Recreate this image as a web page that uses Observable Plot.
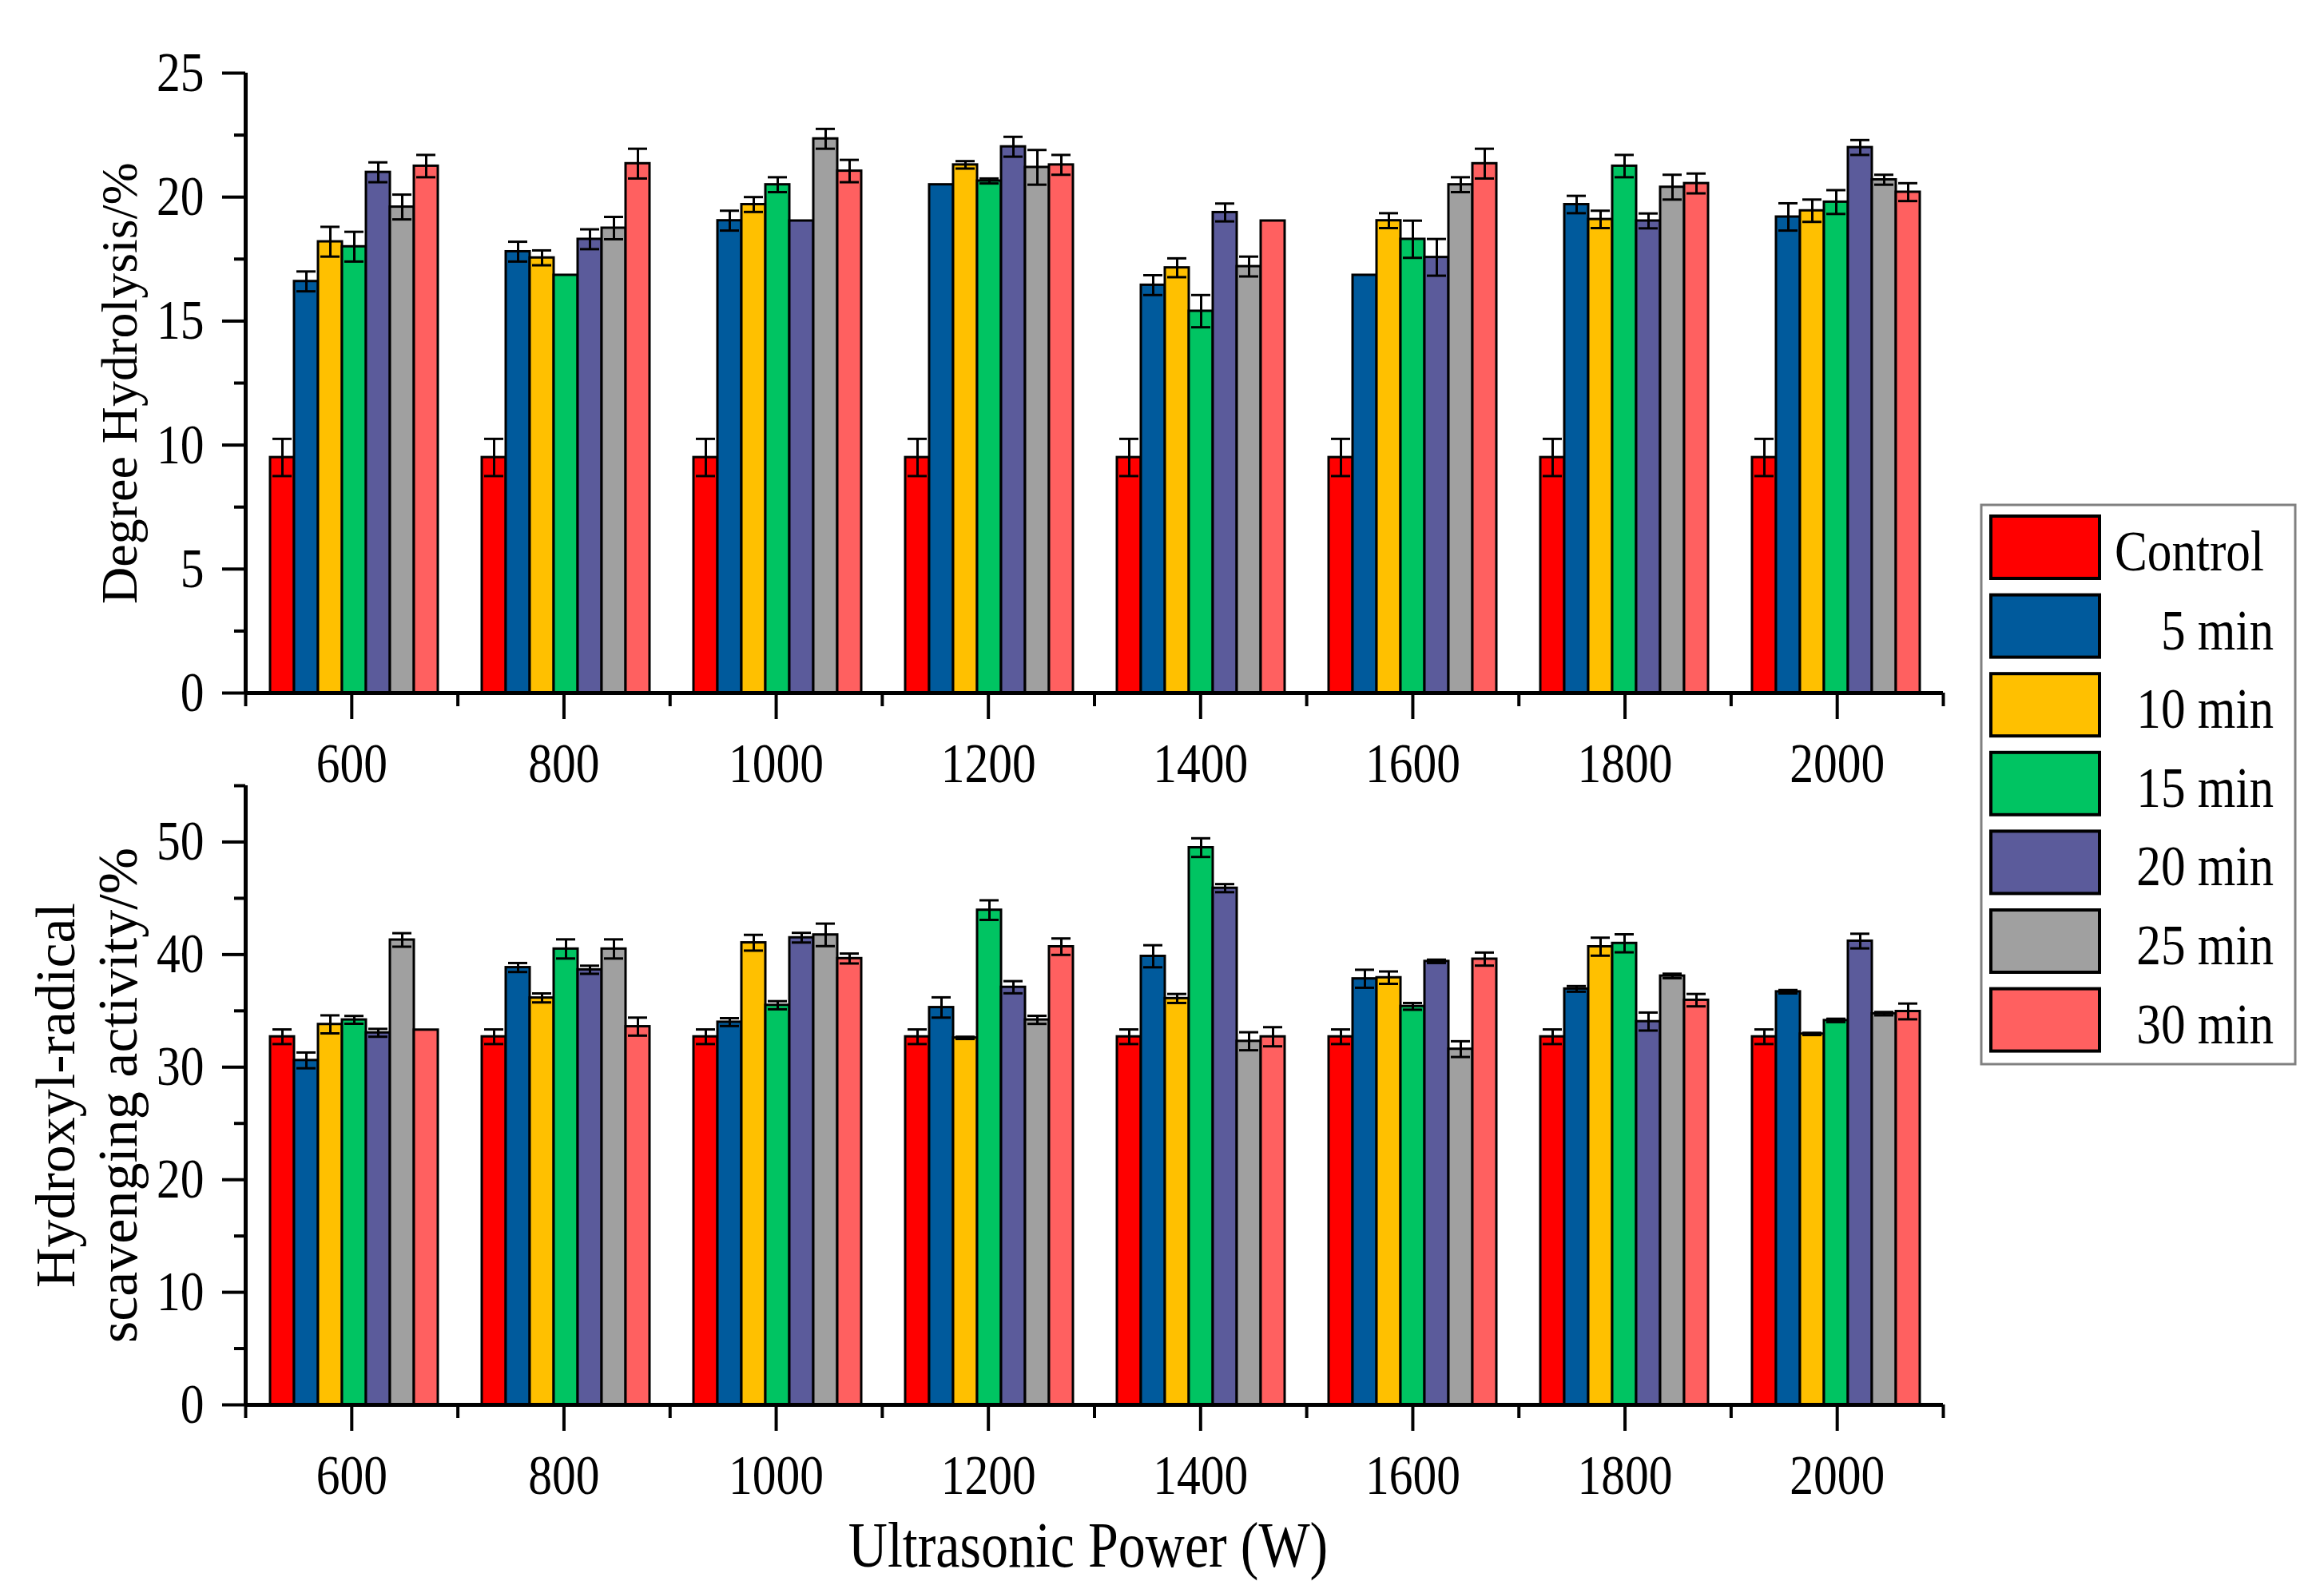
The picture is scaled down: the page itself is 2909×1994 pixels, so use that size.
<!DOCTYPE html>
<html>
<head>
<meta charset="utf-8">
<script src="https://cdn.jsdelivr.net/npm/d3@7"></script>
<script src="https://cdn.jsdelivr.net/npm/@observablehq/plot@0.6"></script>
<style>
  html, body { margin: 0; padding: 0; background: #ffffff; }
  #fig { position: relative; width: 2909px; height: 1994px; overflow: hidden; background: #ffffff; }
  #fig > svg { position: absolute; left: 0; }
</style>
</head>
<body>
<div id="fig"></div>
<script>
// ---------- data ----------
const powers = [600, 800, 1000, 1200, 1400, 1600, 1800, 2000];
const powerBoundaryTicks = [500, 700, 900, 1100, 1300, 1500, 1700, 1900, 2100];
const series = ["Control", "5 min", "10 min", "15 min", "20 min", "25 min", "30 min"];
const colors = ["#FF0000", "#005A9C", "#FFC000", "#00C462", "#5B5B9B", "#A0A0A0", "#FF6060"];

// Degree of hydrolysis (%)
const dhControl = [9.5, 9.5, 9.5, 9.5, 9.5, 9.5, 9.5, 9.5];
const dh5  = [16.6, 17.8, 19.05, 20.5, 16.45, 16.85, 19.7, 19.2];
const dh10 = [18.2, 17.55, 19.7, 21.3, 17.15, 19.05, 19.1, 19.45];
const dh15 = [18.0, 16.85, 20.5, 20.65, 15.4, 18.3, 21.25, 19.8];
const dh20 = [21.0, 18.3, 19.04, 22.03, 19.38, 17.57, 19.04, 22.0];
const dh25 = [19.6, 18.75, 22.35, 21.2, 17.2, 20.5, 20.4, 20.7];
const dh30 = [21.25, 21.35, 21.05, 21.3, 19.04, 21.35, 20.55, 20.2];
const dhErrControl = [0.75, 0.75, 0.75, 0.75, 0.75, 0.75, 0.75, 0.75];
const dhErr5  = [0.4, 0.4, 0.4, 0, 0.4, 0, 0.35, 0.55];
const dhErr10 = [0.6, 0.3, 0.3, 0.15, 0.38, 0.3, 0.35, 0.45];
const dhErr15 = [0.6, 0, 0.3, 0.1, 0.65, 0.75, 0.45, 0.48];
const dhErr20 = [0.4, 0.4, 0, 0.4, 0.36, 0.74, 0.3, 0.3];
const dhErr25 = [0.5, 0.45, 0.4, 0.7, 0.4, 0.3, 0.5, 0.2];
const dhErr30 = [0.45, 0.6, 0.45, 0.4, 0, 0.6, 0.4, 0.36];

// Hydroxyl-radical scavenging activity (%)
const hrControl = [32.7, 32.7, 32.7, 32.7, 32.7, 32.7, 32.7, 32.7];
const hr5  = [30.6, 38.85, 34.0, 35.3, 39.85, 37.85, 36.95, 36.7];
const hr10 = [33.8, 36.15, 41.05, 32.6, 36.1, 37.95, 40.7, 32.95];
const hr15 = [34.2, 40.5, 35.5, 43.95, 49.5, 35.4, 41.0, 34.15];
const hr20 = [33.05, 38.65, 41.5, 37.1, 45.9, 39.4, 34.05, 41.2];
const hr25 = [41.3, 40.5, 41.75, 34.2, 32.3, 31.6, 38.1, 34.75];
const hr30 = [33.3, 33.6, 39.65, 40.7, 32.7, 39.6, 35.95, 34.95];
const hrErrControl = [0.65, 0.65, 0.65, 0.65, 0.65, 0.65, 0.65, 0.65];
const hrErr5  = [0.7, 0.4, 0.35, 0.9, 0.98, 0.8, 0.25, 0.15];
const hrErr10 = [0.8, 0.4, 0.7, 0.1, 0.4, 0.55, 0.8, 0.1];
const hrErr15 = [0.35, 0.85, 0.36, 0.87, 0.83, 0.3, 0.8, 0.15];
const hrErr20 = [0.35, 0.36, 0.43, 0.54, 0.36, 0.15, 0.8, 0.65];
const hrErr25 = [0.6, 0.85, 1.0, 0.36, 0.8, 0.7, 0.2, 0.15];
const hrErr30 = [0, 0.8, 0.44, 0.73, 0.85, 0.58, 0.55, 0.7];

const dhTicks = [0, 5, 10, 15, 20, 25];
const dhMinorTicks = [2.5, 7.5, 12.5, 17.5, 22.5];
const hrTicks = [0, 10, 20, 30, 40, 50];
const hrMinorTicks = [5, 15, 25, 35, 45, 55];

// ---------- build tables ----------
function buildRows(valueLists, errLists) {
  const rows = [];
  series.forEach((s, i) => {
    powers.forEach((p, j) => {
      rows.push({power: p, series: s, value: valueLists[i][j], err: errLists[i][j]});
    });
  });
  return rows;
}
const dhRows = buildRows([dhControl, dh5, dh10, dh15, dh20, dh25, dh30],
                         [dhErrControl, dhErr5, dhErr10, dhErr15, dhErr20, dhErr25, dhErr30]);
const hrRows = buildRows([hrControl, hr5, hr10, hr15, hr20, hr25, hr30],
                         [hrErrControl, hrErr5, hrErr10, hrErr15, hrErr20, hrErr25, hrErr30]);

// ---------- layout ----------
const W = 2909;
const FONT = "'Liberation Serif', 'Times New Roman', serif";
const LEFT = 307, RIGHT_EDGE = 2432;
const fig = document.getElementById("fig");

function condense(svg, k) {
  svg.querySelectorAll("text").forEach(t => {
    const tr = t.getAttribute("transform") || "";
    if (tr.includes("rotate")) return;
    if (tr) {
      t.setAttribute("transform", tr + ` scale(${k},1)`);
    } else {
      const x = parseFloat(t.getAttribute("x") || "0");
      if (!isNaN(x)) {
        t.setAttribute("x", 0);
        t.setAttribute("transform", `translate(${x},0) scale(${k},1)`);
      }
    }
  });
}

function panel({rows, yDomain, yTicks, yMinor, top, height, marginTop, marginBottom, extraMarks}) {
  const common = {
    width: W, height,
    marginLeft: LEFT, marginRight: W - RIGHT_EDGE,
    marginTop, marginBottom,
    style: {background: "transparent", fontFamily: FONT, color: "black", overflow: "visible"}
  };
  const errRows = rows.filter(d => d.err > 0);
  const bars = Plot.plot({
    ...common,
    fx: {domain: powers, padding: 0, axis: null, label: null},
    x: {domain: series, paddingInner: 0, paddingOuter: 0.87, axis: null},
    y: {domain: yDomain, axis: null},
    color: {domain: series, range: colors},
    marks: [
      Plot.barY(rows, {fx: "power", x: "series", y: "value", fill: "series", stroke: "black", strokeWidth: 3}),
      Plot.ruleX(errRows, {fx: "power", x: "series", y1: d => d.value - d.err, y2: d => d.value + d.err, stroke: "black", strokeWidth: 3}),
      Plot.tickY(errRows, {fx: "power", x: "series", y: d => d.value + d.err, stroke: "black", strokeWidth: 3, insetLeft: 3, insetRight: 3}),
      Plot.tickY(errRows, {fx: "power", x: "series", y: d => d.value - d.err, stroke: "black", strokeWidth: 3, insetLeft: 3, insetRight: 3})
    ]
  });
  const axes = Plot.plot({
    ...common,
    x: {domain: [powerBoundaryTicks[0], powerBoundaryTicks[powerBoundaryTicks.length - 1]]},
    y: {domain: yDomain},
    marks: [
      Plot.ruleY([yDomain[0]], {stroke: "black", strokeWidth: 5}),
      Plot.ruleX([powerBoundaryTicks[0]], {stroke: "black", strokeWidth: 5}),
      Plot.axisY({ticks: yTicks, tickSize: 29, tickPadding: 23, fontSize: 70, strokeWidth: 4, label: null, tickFormat: d => String(d)}),
      Plot.axisY({ticks: yMinor, tickSize: 14, strokeWidth: 4, label: null, tickFormat: () => ""}),
      Plot.axisX({ticks: powers, tickSize: 33, tickPadding: 29, fontSize: 70, strokeWidth: 4, label: null, tickFormat: d => String(d)}),
      Plot.axisX({ticks: powerBoundaryTicks, tickSize: 17, strokeWidth: 4, label: null, tickFormat: () => ""}),
      ...extraMarks
    ]
  });
  condense(axes, 0.85);
  bars.style.top = top + "px";
  axes.style.top = top + "px";
  fig.appendChild(bars);
  fig.appendChild(axes);
}

// Top panel: Degree Hydrolysis
panel({
  rows: dhRows, yDomain: [0, 25], yTicks: dhTicks, yMinor: dhMinorTicks,
  top: 0, height: 1000, marginTop: 91, marginBottom: 1000 - 867,
  extraMarks: [
    Plot.text(["Degree Hydrolysis/%"], {text: d => d, frameAnchor: "left", rotate: -90, dx: -137, lineAnchor: "bottom", textAnchor: "middle", fontSize: 64, fill: "black"})
  ]
});

// Bottom panel: Hydroxyl-radical scavenging activity
panel({
  rows: hrRows, yDomain: [0, 55], yTicks: hrTicks, yMinor: hrMinorTicks,
  top: 900, height: 1094, marginTop: 983 - 900, marginBottom: 1994 - 1758,
  extraMarks: [
    Plot.text(["Hydroxyl-radical"], {text: d => d, frameAnchor: "left", rotate: -90, dx: -215, lineAnchor: "bottom", textAnchor: "middle", fontSize: 70, fill: "black"}),
    Plot.text(["scavenging activity/%"], {text: d => d, frameAnchor: "left", rotate: -90, dx: -137, lineAnchor: "bottom", textAnchor: "middle", fontSize: 70, fill: "black"}),
    Plot.text(["Ultrasonic Power (W)"], {text: d => d, frameAnchor: "bottom", dx: -8, dy: 202, lineAnchor: "bottom", textAnchor: "middle", fontSize: 80, fill: "black"})
  ]
});

// ---------- legend ----------
const lg = d3.select(fig).append("svg")
  .attr("width", W).attr("height", 1994)
  .style("top", "0px")
  .style("font-family", FONT);
lg.append("rect")
  .attr("x", 2480).attr("y", 632).attr("width", 393).attr("height", 700)
  .attr("fill", "white").attr("stroke", "#808080").attr("stroke-width", 3);
const step = 98.6;
series.forEach((s, i) => {
  const y0 = 646 + i * step;
  lg.append("rect")
    .attr("x", 2492).attr("y", y0).attr("width", 136).attr("height", 78)
    .attr("fill", colors[i]).attr("stroke", "black").attr("stroke-width", 4);
  const isFirst = i === 0;
  lg.append("text")
    .attr("transform", `translate(${isFirst ? 2647 : 2846},${y0 + 39 + 29}) scale(0.85,1)`)
    .attr("text-anchor", isFirst ? "start" : "end")
    .attr("font-size", 72)
    .attr("fill", "black")
    .text(s);
});
</script>
</body>
</html>
